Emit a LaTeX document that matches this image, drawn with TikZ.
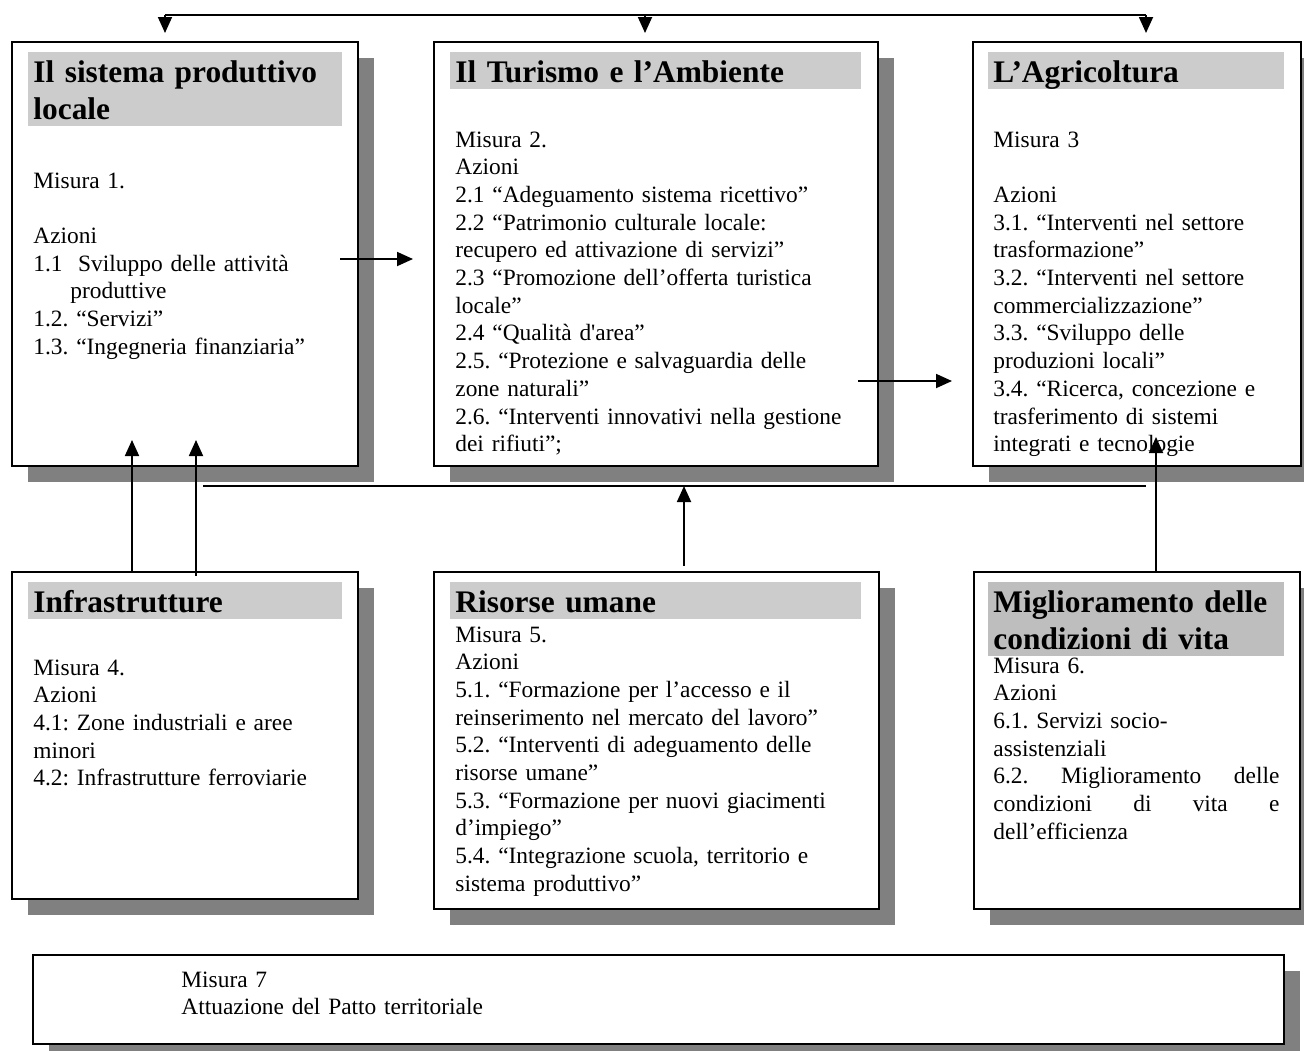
\documentclass[tikz,border=0pt]{standalone}
\usepackage{fontspec}
\setmainfont{Liberation Serif}
\usetikzlibrary{arrows.meta,shadows}
\definecolor{headgray}{HTML}{CCCCCC}
\definecolor{headdark}{HTML}{BEBEBE}
\definecolor{shadowgray}{HTML}{808080}
\newcommand{\bodyfont}{\fontsize{11.7}{13.85}\selectfont}
\newcommand{\headfont}{\fontsize{15.7}{18.5}\selectfont\bfseries}
\newcommand{\hstrut}{\rule[-3.5pt]{0pt}{18.5pt}}
\frenchspacing
\tikzset{
  panel/.style={draw,line width=1pt,fill=white,anchor=north west,inner sep=0pt,
    drop shadow={shadow xshift=8pt,shadow yshift=-8pt,fill=shadowgray,opacity=1}},
  headbar/.style={fill=headgray,anchor=north west,inner xsep=2.5pt,inner ysep=0pt,
    align=left,font=\headfont},
  bodytext/.style={anchor=base west,inner sep=0pt,align=left,text width=215pt,font=\bodyfont},
  link/.style={line width=0.9pt,-{Triangle[width=7pt,length=8pt]}},
  bus/.style={line width=0.9pt},
}
\begin{document}
\begin{tikzpicture}[x=0.5pt,y=-0.5pt]
  \useasboundingbox (0,0) rectangle (1304,1050);
  % upper row of measures
  \node[panel,minimum width=173pt,minimum height=212pt] (prod) at (11,41) {};
  \node[panel,minimum width=222pt,minimum height=212pt] (tur) at (433,41) {};
  \node[panel,minimum width=164pt,minimum height=212pt] (agr) at (972,41) {};
  \node[headbar,text width=152pt,minimum height=37pt] (prodH) at (28,52) {\hstrut Il sistema produttivo\\\hstrut locale};
  \node[headbar,text width=200.5pt,minimum height=18.5pt] (turH) at (450,52) {\hstrut Il Turismo e l’Ambiente};
  \node[headbar,text width=143pt,minimum height=18.5pt] (agrH) at (988,52) {\hstrut L’Agricoltura};
  \node[bodytext] (prodT) at (33,188) {Misura 1.\\\mbox{}\\Azioni\\1.1\ \ Sviluppo delle attività\\
    \hspace*{18.5pt}produttive\\1.2. “Servizi”\\1.3. “Ingegneria finanziaria”};
  \node[bodytext] (turT) at (455,147) {Misura 2.\\Azioni\\2.1 “Adeguamento sistema ricettivo”\\
    2.2 “Patrimonio culturale locale:\\recupero ed attivazione di servizi”\\
    2.3 “Promozione dell’offerta turistica\\locale”\\2.4 “Qualità d\textquotesingle area”\\
    2.5. “Protezione e salvaguardia delle\\zone naturali”\\
    2.6. “Interventi innovativi nella gestione\\dei rifiuti”;};
  \node[bodytext] (agrT) at (993,147) {Misura 3\\\mbox{}\\Azioni\\3.1. “Interventi nel settore\\
    trasformazione”\\3.2. “Interventi nel settore\\commercializzazione”\\3.3. “Sviluppo delle\\
    produzioni locali”\\3.4. “Ricerca, concezione e\\trasferimento di sistemi\\integrati e tecnologie};
  % lower row of measures
  \node[panel,minimum width=173pt,minimum height=163.5pt] (infr) at (11,571) {};
  \node[panel,minimum width=222.5pt,minimum height=168.5pt] (ris) at (433,571) {};
  \node[panel,minimum width=163pt,minimum height=168.5pt] (mig) at (973,571) {};
  \node[headbar,text width=152pt,minimum height=18.5pt] (infrH) at (28,582) {\hstrut Infrastrutture};
  \node[headbar,text width=200.5pt,minimum height=18.5pt] (risH) at (450,582) {\hstrut Risorse umane};
  \node[headbar,fill=headdark,text width=143pt,minimum height=37pt] (migH) at (988,582) {\hstrut Miglioramento delle\\\hstrut condizioni di vita};
  \node[bodytext] (infrT) at (33,675) {Misura 4.\\Azioni\\4.1: Zone industriali e aree\\minori\\
    4.2: Infrastrutture ferroviarie};
  \node[bodytext] (risT) at (455,642) {Misura 5.\\Azioni\\5.1. “Formazione per l’accesso e il\\
    reinserimento nel mercato del lavoro”\\5.2. “Interventi di adeguamento delle\\risorse umane”\\
    5.3. “Formazione per nuovi giacimenti\\d’impiego”\\5.4. “Integrazione scuola, territorio e\\
    sistema produttivo”};
  \node[bodytext,text width=143pt] (migT) at (993,673) {Misura 6.\\Azioni\\6.1. Servizi socio-\\
    assistenziali\\6.2.\hfill Miglioramento\hfill delle\\condizioni\hfill di\hfill vita\hfill e\\
    dell’efficienza};
  % bottom measure
  \node[panel,minimum width=625.5pt,minimum height=44.5pt] (patto) at (32,954) {};
  \node[bodytext] (pattoT) at (181,987) {Misura 7\\Attuazione del Patto territoriale};
  % connectors
  \coordinate (topL) at (165,15);
  \coordinate (topM) at (645,15);
  \coordinate (topR) at (1146,15);
  \draw[bus] (topL) -- (topR);
  \foreach \c/\n in {topL/prod,topM/tur,topR/agr}
    \draw[link] (\c) -- ([yshift=4pt]\c |- \n.north);
  \draw[link] ([xshift=-9.5pt,yshift=-2.5pt]prod.east) -- ([xshift=-10pt,yshift=-2.5pt]tur.west);
  \draw[link] ([xshift=-10.5pt,yshift=-63.5pt]tur.east) -- ([xshift=-10pt,yshift=-63.5pt]agr.west);
  \draw[link] ([xshift=-26.5pt]infr.north) -- ([xshift=-26.5pt,yshift=13.5pt]prod.south);
  \draw[link] ([xshift=5.5pt,yshift=-2.5pt]infr.north) -- ([xshift=5.5pt,yshift=13.5pt]prod.south);
  \coordinate (busL) at (203,486);
  \coordinate (busR) at (1146,486);
  \draw[bus] (busL) -- (busR);
  \draw[link] ([xshift=13.75pt,yshift=2.5pt]ris.north) -- ([xshift=13.75pt]ris.north |- busL);
  \draw[link] ([xshift=9.5pt]mig.north) -- ([xshift=9.5pt,yshift=15pt]agr.south);
\end{tikzpicture}
\end{document}
